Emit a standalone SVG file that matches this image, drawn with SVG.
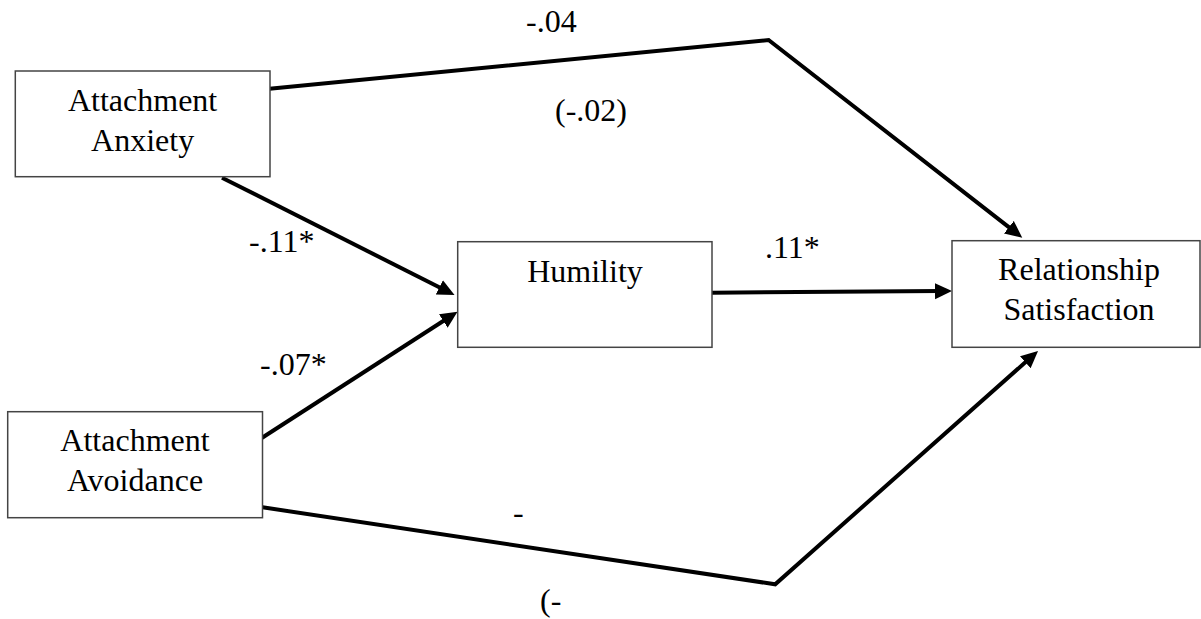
<svg xmlns="http://www.w3.org/2000/svg" width="1201" height="619" viewBox="0 0 1201 619" font-family="Liberation Serif, Times New Roman, serif">
<style>
.box{fill:#fff;stroke:#444;stroke-width:1.5}
text{font-family:"Liberation Serif","Times New Roman",serif;font-size:32px;fill:#000}
.c{text-anchor:middle}
.ln{fill:none;stroke:#000;stroke-width:4;stroke-linejoin:miter}
</style>
<defs>
<marker id="ah" markerUnits="userSpaceOnUse" markerWidth="20" markerHeight="20" refX="6" refY="8" orient="auto">
<path d="M0,0 L17,8 L0,16 z" fill="#000"/>
</marker>
</defs>
<rect width="1201" height="619" fill="#fff"/>
<g id="connectors">
<polyline class="ln" points="267,89 768.6,40 1013.6,230.9" marker-end="url(#ah)"/>
<line class="ln" x1="222" y1="177.7" x2="444.7" y2="290" marker-end="url(#ah)"/>
<line class="ln" x1="260.2" y1="439" x2="448.3" y2="317.7" marker-end="url(#ah)"/>
<line class="ln" x1="712" y1="292.7" x2="941" y2="291.1" marker-end="url(#ah)"/>
<polyline class="ln" points="262.5,507.3 775.2,584.3 1029.8,358.3" marker-end="url(#ah)"/>
</g>
<g id="labels">
<text x="526" y="32">-.04</text>
<text x="555" y="121">(-.02)</text>
<text x="249" y="252">-.11*</text>
<text x="260" y="375">-.07*</text>
<text x="765" y="258">.11*</text>
<text x="513" y="523">-</text>
<text x="540" y="611">(-</text>
</g>
<g id="anxiety">
<rect class="box" x="15.3" y="71" width="254.7" height="105.7"/>
<text class="c" x="142.6" y="111">Attachment</text>
<text class="c" x="142.6" y="151">Anxiety</text>
</g>
<g id="avoidance">
<rect class="box" x="7.7" y="411.7" width="254.8" height="106"/>
<text class="c" x="135" y="451">Attachment</text>
<text class="c" x="135" y="491">Avoidance</text>
</g>
<g id="humility">
<rect class="box" x="457.7" y="241.7" width="254.3" height="105.6"/>
<text class="c" x="585" y="282">Humility</text>
</g>
<g id="satisfaction">
<rect class="box" x="952" y="240.7" width="248" height="106.6"/>
<text class="c" x="1079" y="280">Relationship</text>
<text class="c" x="1079" y="319.5">Satisfaction</text>
</g>
</svg>
